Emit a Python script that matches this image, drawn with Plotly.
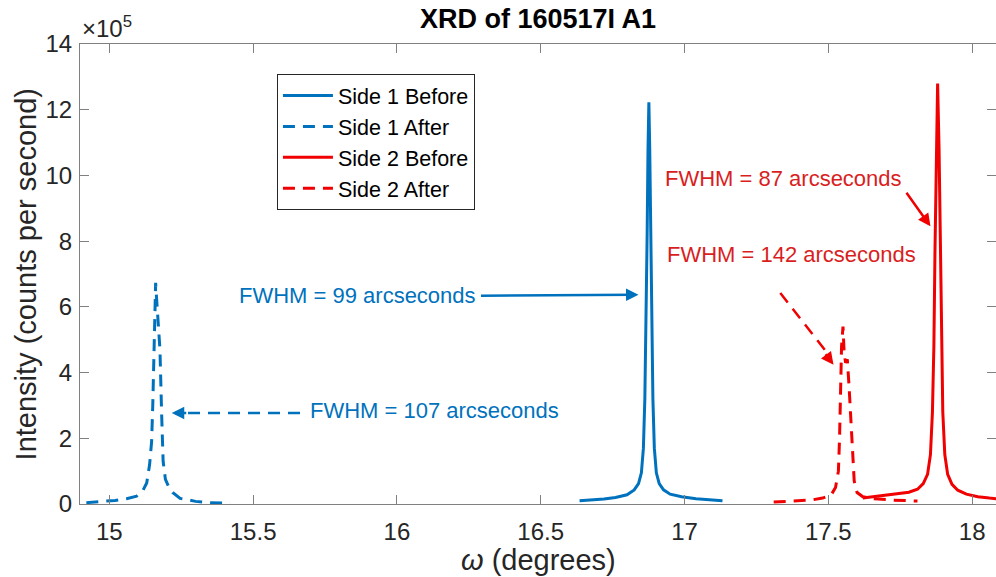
import plotly.graph_objects as go

# ---------------- data (intensity in units of 1e5 counts per second) ----------------
omega_s1_before = [16.635, 16.68, 16.72, 16.76, 16.80, 16.825, 16.84, 16.85, 16.857, 16.862,
                   16.866, 16.870, 16.873, 16.876, 16.879, 16.882, 16.886, 16.890, 16.895,
                   16.902, 16.912, 16.927, 16.95, 16.99, 17.04, 17.09, 17.132]
int_s1_before = [0.10, 0.12, 0.15, 0.20, 0.28, 0.43, 0.62, 0.95, 1.7, 3.2,
                 5.2, 8.2, 10.8, 12.23, 10.8, 8.2, 5.2, 3.2, 1.7,
                 0.95, 0.62, 0.43, 0.30, 0.22, 0.16, 0.12, 0.10]

omega_s1_after = [14.92, 14.97, 15.02, 15.06, 15.095, 15.115, 15.13, 15.14, 15.147, 15.151,
                  15.154, 15.157, 15.161, 15.164, 15.170, 15.176, 15.182, 15.187, 15.195,
                  15.205, 15.22, 15.246, 15.30, 15.35, 15.42]
int_s1_after = [0.04, 0.07, 0.11, 0.16, 0.24, 0.38, 0.64, 1.2, 1.9, 3.0,
                4.0, 5.5, 6.73, 6.3, 5.6, 4.7, 2.7, 1.3, 0.75,
                0.55, 0.35, 0.17, 0.08, 0.04, 0.02]

omega_s2_before = [17.62, 17.66, 17.70, 17.74, 17.78, 17.81, 17.83, 17.845, 17.855, 17.862,
                   17.867, 17.871, 17.875, 17.880, 17.885, 17.889, 17.893, 17.898, 17.905,
                   17.915, 17.93, 17.95, 17.98, 18.02, 18.06, 18.10]
int_s2_before = [0.18, 0.22, 0.26, 0.30, 0.36, 0.45, 0.62, 0.9, 1.5, 2.8,
                 4.8, 7.8, 10.8, 12.8, 10.8, 7.8, 4.8, 2.8, 1.5,
                 0.9, 0.6, 0.42, 0.30, 0.22, 0.18, 0.15]

omega_s2_after = [17.31, 17.38, 17.44, 17.48, 17.51, 17.525, 17.535, 17.539, 17.542, 17.546,
                  17.551, 17.555, 17.560, 17.566, 17.572, 17.578, 17.584, 17.59, 17.60,
                  17.62, 17.66, 17.72, 17.81]
int_s2_after = [0.06, 0.08, 0.12, 0.18, 0.28, 0.5, 1.0, 2.0, 3.8, 4.8,
                5.4, 4.6, 4.3, 4.4, 3.6, 2.6, 1.5, 0.7, 0.35,
                0.22, 0.16, 0.12, 0.09]

x_ticks = [15, 15.5, 16, 16.5, 17, 17.5, 18]
x_tick_labels = ["15", "15.5", "16", "16.5", "17", "17.5", "18"]
y_ticks = [0, 2, 4, 6, 8, 10, 12, 14]
y_tick_labels = ["0", "2", "4", "6", "8", "10", "12", "14"]

series_names = ["Side 1 Before", "Side 1 After", "Side 2 Before", "Side 2 After"]

# ---------------- style ----------------
BLUE = "#0072BD"
RED = "#F00000"
RED_TXT = "#D91E1E"
AXC = "#808080"
TXT = "#262626"
FONT = "Liberation Sans, Arial, Helvetica, sans-serif"
DASH = "12px,8px"

fig = go.Figure()
fig.add_trace(go.Scatter(x=omega_s1_before, y=int_s1_before, mode="lines", name=series_names[0],
                         line=dict(color=BLUE, width=3)))
fig.add_trace(go.Scatter(x=omega_s1_after, y=int_s1_after, mode="lines", name=series_names[1],
                         line=dict(color=BLUE, width=3, dash=DASH)))
fig.add_trace(go.Scatter(x=omega_s2_before, y=int_s2_before, mode="lines", name=series_names[2],
                         line=dict(color=RED, width=3)))
fig.add_trace(go.Scatter(x=omega_s2_after, y=int_s2_after, mode="lines", name=series_names[3],
                         line=dict(color=RED, width=3, dash=DASH)))
# carrier for mirrored right-side ticks
fig.add_trace(go.Scatter(x=[], y=[], yaxis="y2", showlegend=False, hoverinfo="skip"))

annotations = []
# text labels
annotations.append(dict(x=15.862, y=6.34, xref="x", yref="y", text="FWHM = 99 arcseconds",
                        showarrow=False, font=dict(size=22, color=BLUE, family=FONT)))
annotations.append(dict(x=16.129, y=2.84, xref="x", yref="y", text="FWHM = 107 arcseconds",
                        showarrow=False, font=dict(size=22, color=BLUE, family=FONT)))
annotations.append(dict(x=17.345, y=9.9, xref="x", yref="y", text="FWHM = 87 arcseconds",
                        showarrow=False, font=dict(size=22, color=RED_TXT, family=FONT)))
annotations.append(dict(x=17.373, y=7.6, xref="x", yref="y", text="FWHM = 142 arcseconds",
                        showarrow=False, font=dict(size=22, color=RED_TXT, family=FONT)))
# solid arrows
annotations.append(dict(x=16.840, y=6.37, xref="x", yref="y", ax=16.287, ay=6.34, axref="x", ayref="y",
                        text="", showarrow=True, arrowhead=2, arrowsize=1, arrowwidth=2.5,
                        arrowcolor=BLUE, standoff=0, startstandoff=0))
annotations.append(dict(x=17.855, y=8.45, xref="x", yref="y", ax=17.768, ay=9.52, axref="x", ayref="y",
                        text="", showarrow=True, arrowhead=2, arrowsize=1, arrowwidth=2.5,
                        arrowcolor=RED, standoff=0, startstandoff=0))
# heads of dashed arrows
annotations.append(dict(x=15.217, y=2.77, xref="x", yref="y", ax=16, ay=0,
                        text="", showarrow=True, arrowhead=2, arrowsize=1, arrowwidth=2.5,
                        arrowcolor=BLUE, standoff=0))
annotations.append(dict(x=17.518, y=4.24, xref="x", yref="y", ax=-9, ay=-12,
                        text="", showarrow=True, arrowhead=2, arrowsize=1, arrowwidth=2.5,
                        arrowcolor=RED, standoff=0))
# exponent, axis labels
annotations.append(dict(x=0, y=1.0, xref="paper", yref="paper", xanchor="left", yanchor="bottom",
                        text="×10<sup>5</sup>", showarrow=False,
                        font=dict(size=24, color=TXT, family=FONT)))
annotations.append(dict(x=0.5, y=-0.122, xref="paper", yref="paper", xanchor="center", yanchor="middle",
                        text="<i>ω</i> (degrees)", showarrow=False,
                        font=dict(size=29, color=TXT, family=FONT)))
annotations.append(dict(x=-0.0585, y=0.5, xref="paper", yref="paper", xanchor="center", yanchor="middle",
                        text="Intensity (counts per second)", textangle=-90, showarrow=False,
                        font=dict(size=29, color=TXT, family=FONT)))

shapes = [
    dict(type="line", xref="x", yref="y", x0=15.663, y0=2.77, x1=15.26, y1=2.77,
         line=dict(color=BLUE, width=2.5, dash=DASH)),
    dict(type="line", xref="x", yref="y", x0=17.333, y0=6.42, x1=17.505, y1=4.5,
         line=dict(color=RED, width=2.5, dash=DASH)),
]

fig.update_layout(
    width=996, height=577,
    margin=dict(l=80, r=0, t=44, b=73),
    paper_bgcolor="white", plot_bgcolor="white",
    font=dict(family=FONT, color=TXT, size=24),
    title=dict(text="<b>XRD of 160517I A1</b>", x=0.5, xref="paper", xanchor="center",
               y=1 - 19 / 577, yref="container", yanchor="middle",
               font=dict(size=27, color="black", family=FONT)),
    xaxis=dict(range=[14.898, 18.083], tickvals=x_ticks, ticktext=x_tick_labels,
               ticks="inside", ticklen=9, tickcolor=AXC, tickwidth=1,
               showline=True, linecolor=AXC, linewidth=1, mirror="ticks",
               showgrid=False, zeroline=False, ticklabelstandoff=6,
               tickfont=dict(size=24, color=TXT)),
    yaxis=dict(range=[0, 14], tickvals=y_ticks, ticktext=y_tick_labels,
               ticks="inside", ticklen=9, tickcolor=AXC, tickwidth=1,
               showline=True, linecolor=AXC, linewidth=1, mirror=False,
               showgrid=False, zeroline=False, ticklabelstandoff=2,
               tickfont=dict(size=24, color=TXT)),
    yaxis2=dict(range=[0, 14], tickvals=y_ticks, overlaying="y", side="right",
                ticks="inside", ticklen=9, tickcolor=AXC, showticklabels=False,
                showline=False, showgrid=False, zeroline=False),
    legend=dict(x=0.215, y=0.9348, xanchor="left", yanchor="top",
                bgcolor="white", bordercolor=TXT, borderwidth=1, itemwidth=50,
                font=dict(size=21.5, color="black", family=FONT), tracegroupgap=0),
    annotations=annotations,
    shapes=shapes,
    showlegend=True,
)

fig.write_html("out.html")
